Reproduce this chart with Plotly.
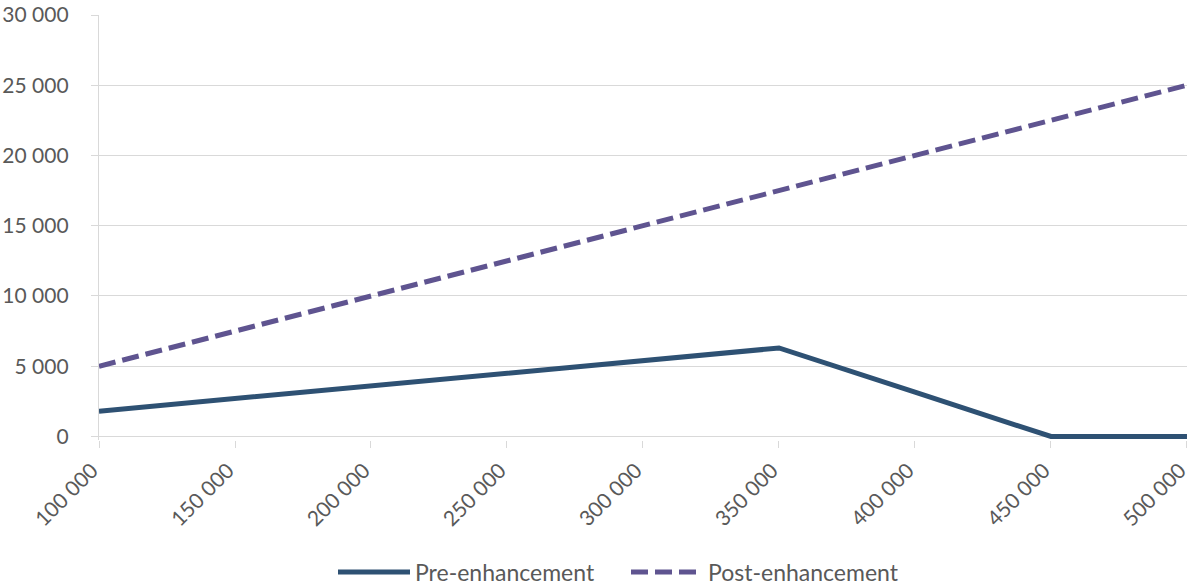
import plotly.graph_objects as go

# Annual volume (x) versus value (y) for the two scenarios
volume = [100000, 150000, 200000, 250000, 300000, 350000, 400000, 450000, 500000]
pre_enhancement = [1800, 2700, 3600, 4500, 5400, 6300, 3150, 0, 0]
post_enhancement = [5000, 7500, 10000, 12500, 15000, 17500, 20000, 22500, 25000]

x_ticks = [100000, 150000, 200000, 250000, 300000, 350000, 400000, 450000, 500000]
y_ticks = [0, 5000, 10000, 15000, 20000, 25000, 30000]

GRID = "#d9d9d9"
TEXT = "#595959"
FONT = "Lato"

fig = go.Figure()
fig.add_trace(go.Scatter(
    x=volume, y=pre_enhancement, mode="lines", name="Pre-enhancement",
    line=dict(color="#2e5173", width=5),
))
fig.add_trace(go.Scatter(
    x=volume, y=post_enhancement, mode="lines", name="Post-enhancement",
    line=dict(color="#5f5490", width=5, dash="17px,7px"),
))

fig.update_layout(
    width=1189, height=586,
    margin=dict(l=99, r=2, t=15, b=145.5),
    paper_bgcolor="white", plot_bgcolor="white",
    separators=". ",
    font=dict(family=FONT, size=21, color=TEXT),
    showlegend=True,
    legend=dict(
        orientation="h", xref="container", yref="container",
        x=333 / 1189, xanchor="left", y=(586 - 572) / 586, yanchor="middle",
        font=dict(family=FONT, size=23, color=TEXT), itemwidth=72,
        entrywidth=206, entrywidthmode="pixels",
        traceorder="normal",
    ),
)
fig.update_xaxes(
    range=[100000, 500010], tickvals=x_ticks, tickformat=",d", tickangle=-45,
    showgrid=False, showline=False, zeroline=False, automargin=False,
    ticks="outside", ticklen=7, tickwidth=1.3, tickcolor=GRID,
    ticklabelstandoff=2, ticklabelshift=-7, ticklabeloverflow="allow",
)
fig.update_yaxes(
    range=[-250, 30000], tickvals=y_ticks, tickformat=",d", automargin=False,
    showgrid=True, gridcolor=GRID, gridwidth=1.3,
    zeroline=True, zerolinecolor=GRID, zerolinewidth=1.3,
    showline=True, linecolor=GRID, linewidth=1.3,
    ticks="outside", ticklen=7, tickwidth=1.3, tickcolor=GRID,
    ticklabelstandoff=18,
)

fig.write_html("out.html")
